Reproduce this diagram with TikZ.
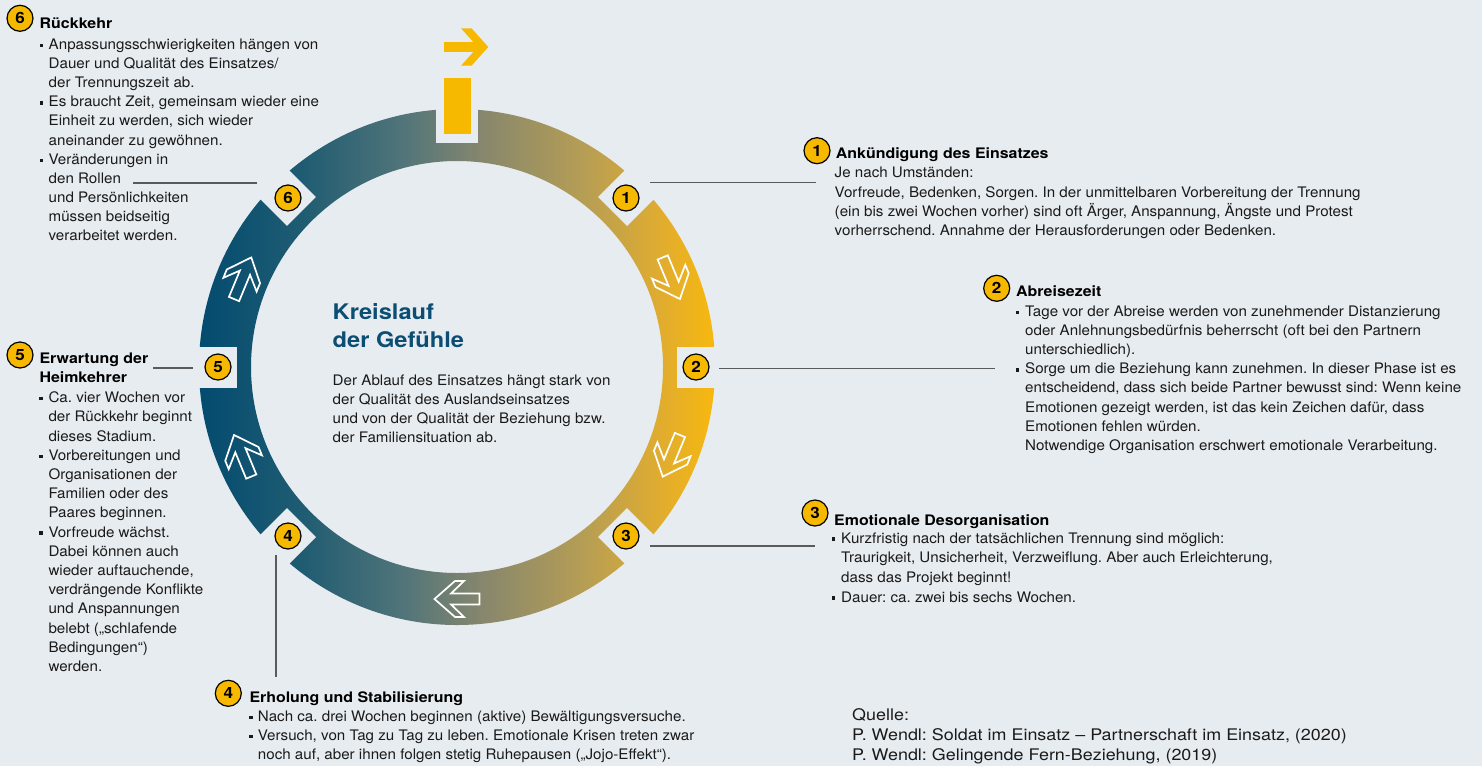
\documentclass[tikz,border=0pt]{standalone}
\usepackage{fontspec}
\setmainfont[FakeStretch=1.045]{TeX Gyre Heros}
\newfontfamily\ttlfont[FakeStretch=1.1]{TeX Gyre Heros}
\newfontfamily\qfont[FakeStretch=1.12]{TeX Gyre Heros}
\usetikzlibrary{calc}
\definecolor{bg}{HTML}{E7ECF0}
\definecolor{ylw}{HTML}{F7B900}
\definecolor{sa}{HTML}{034B6F}
\definecolor{sb}{HTML}{1F5C72}
\definecolor{sc}{HTML}{527579}
\definecolor{sd}{HTML}{87876D}
\definecolor{se}{HTML}{B79E54}
\definecolor{sf}{HTML}{E2AD2D}
\definecolor{sg}{HTML}{F7B80E}
\pgfdeclarehorizontalshading{ringshade}{100bp}{color(0bp)=(sa); color(25bp)=(sa); color(35bp)=(sb); color(45bp)=(sc); color(52.5bp)=(sd); color(62.5bp)=(se); color(70bp)=(sf); color(75bp)=(sg); color(100bp)=(sg)}
\definecolor{txtc}{HTML}{1A1A1A}
\definecolor{ttlblue}{HTML}{0B4D73}
\definecolor{leadc}{HTML}{5A5A5A}
\newcounter{lnc}
\newcommand\tline[3]{\stepcounter{lnc}\node[txt] (ln\thelnc) at (#1,-#2) {#3};}
\newcommand\ttline[3]{\stepcounter{lnc}\node[ttl] (ln\thelnc) at (#1,-#2) {#3};}
\newcommand\bul[2]{\fill[txtc] (#1,-#2+2.3) rectangle ++(3.4,3.4);}
\begin{document}
\frenchspacing
\begin{tikzpicture}[x=1pt,y=1pt,
  txt/.style={anchor=base west, inner sep=0pt, font=\fontsize{14.5}{19}\selectfont, text=txtc},
  ttl/.style={anchor=base west, inner sep=0pt, font=\ttlfont\fontsize{14.5}{19}\selectfont\bfseries, text=black},
  qtxt/.style={anchor=base west, inner sep=0pt, font=\qfont\fontsize{16}{20}\selectfont, text=txtc},
  ctitle/.style={anchor=base west, inner sep=0pt, font=\ttlfont\fontsize{21.5}{26}\selectfont\bfseries, text=ttlblue},
  badge/.style={circle, fill=ylw, draw=black, line width=1.2pt, minimum size=26pt, inner sep=0pt, font=\ttlfont\fontsize{15.5}{15}\selectfont\bfseries},
  leader/.style={draw=leadc, line width=1.2pt},
  ringarrow/.style={draw=white, line width=1.7pt, line join=miter}
]
\useasboundingbox (0,0) rectangle (1482,-766);
\fill[bg] (0,0) rectangle (1482,-766);

% ---------- ring ----------
\coordinate (C) at (457,-367);
\path[even odd rule, shading=ringshade]
  (C) circle (258) (C) circle (206);
\begin{scope}[shift={(457,-367)}]
  \foreach \a in {45,0,-45,-135,180,135}{
    \fill[bg, rotate=\a] (220,-20.5) rectangle (266,20.5);
  }
  \fill[bg, rotate=90] (224,-20.8) rectangle (266,20.8);
  \foreach \a in {22.5,-22.5,-90,-157.5,157.5}{
    \begin{scope}[shift={(\a:232)}, rotate=\a-90]
      \draw[ringarrow] (22.5,0) -- (2,18) -- (-7,18) -- (6,5.5) -- (-22.5,5.5)
        -- (-22.5,-5.5) -- (6,-5.5) -- (-7,-18) -- (2,-18) -- cycle;
    \end{scope}
  }
\end{scope}

% top marker
\fill[ylw] (444,-78) rectangle (471,-134);
\fill[ylw] (444,-42.3) rectangle (479,-51.7);
\fill[ylw] (461,-28.3) -- (471.5,-28.3) -- (488.3,-47) -- (471.5,-65.7) -- (461,-65.7) -- (477.8,-47) -- cycle;

% ring badges
\node[badge] (r1) at ($(C)+(45:239)$) {1};
\node[badge] (r2) at ($(C)+(0:239)$) {2};
\node[badge] (r3) at ($(C)+(-45:239)$) {3};
\node[badge] (r4) at ($(C)+(-135:239)$) {4};
\node[badge] (r5) at ($(C)+(180:239)$) {5};
\node[badge] (r6) at ($(C)+(135:239)$) {6};

% text badges
\node[badge] (b1) at (817,-150.7) {1};
\node[badge] (b2) at (996.7,-288.3) {2};
\node[badge] (b3) at (815,-513) {3};
\node[badge] (b4) at (228.3,-693.3) {4};
\node[badge] (b5) at (20,-355) {5};
\node[badge] (b6) at (20,-18.3) {6};

% leaders
\coordinate (l1s) at (650,-182.5); \coordinate (l1e) at (816,-182.5);
\coordinate (l2s) at (719,-368.5); \coordinate (l2e) at (995,-368.5);
\coordinate (l3s) at (650,-546); \coordinate (l3e) at (815,-546);
\coordinate (l4s) at (276,-555); \coordinate (l4e) at (276,-677);
\coordinate (l5s) at (193,-368); \coordinate (l5e) at (153,-368);
\coordinate (l6s) at (257,-183); \coordinate (l6e) at (133,-183);
\draw[leader] (l1s) -- (l1e);
\draw[leader] (l2s) -- (l2e);
\draw[leader] (l3s) -- (l3e);
\draw[leader] (l4s) -- (l4e);
\draw[leader] (l5s) -- (l5e);
\draw[leader] (l6s) -- (l6e);

% ---------- block 6 ----------
\ttline{39.5}{28.3}{Rückkehr}
\bul{39.5}{49.3}\bul{39.5}{106.8}\bul{39.5}{164.2}
\tline{48.5}{49.3}{Anpassungsschwierigkeiten hängen von}
\tline{48.5}{68.5}{Dauer und Qualität des Einsatzes/}
\tline{48.5}{87.6}{der Trennungszeit ab.}
\tline{48.5}{106.8}{Es braucht Zeit, gemeinsam wieder eine}
\tline{48.5}{125.9}{Einheit zu werden, sich wieder}
\tline{48.5}{145.1}{aneinander zu gewöhnen.}
\tline{48.5}{164.2}{Veränderungen in}
\tline{48.5}{183.4}{den Rollen}
\tline{48.5}{202.5}{und Persönlichkeiten}
\tline{48.5}{221.7}{müssen beidseitig}
\tline{48.5}{240.8}{verarbeitet werden.}

% ---------- block 1 ----------
\ttline{835.7}{158.3}{Ankündigung des Einsatzes}
\tline{834.5}{177.7}{Je nach Umständen:}
\tline{834.5}{197}{Vorfreude, Bedenken, Sorgen. In der unmittelbaren Vorbereitung der Trennung}
\tline{834.5}{216.3}{(ein bis zwei Wochen vorher) sind oft Ärger, Anspannung, Ängste und Protest}
\tline{834.5}{235.6}{vorherrschend. Annahme der Herausforderungen oder Bedenken.}

% ---------- block 2 ----------
\ttline{1016}{296.7}{Abreisezeit}
\bul{1016}{316.5}\bul{1016}{373.8}
\tline{1025}{316.5}{Tage vor der Abreise werden von zunehmender Distanzierung}
\tline{1025}{335.6}{oder Anlehnungsbedürfnis beherrscht (oft bei den Partnern}
\tline{1025}{354.7}{unterschiedlich).}
\tline{1025}{373.8}{Sorge um die Beziehung kann zunehmen. In dieser Phase ist es}
\tline{1025}{392.9}{entscheidend, dass sich beide Partner bewusst sind: Wenn keine}
\tline{1025}{412}{Emotionen gezeigt werden, ist das kein Zeichen dafür, dass}
\tline{1025}{431.1}{Emotionen fehlen würden.}
\tline{1025}{450.2}{Notwendige Organisation erschwert emotionale Verarbeitung.}

% ---------- block 3 ----------
\ttline{834}{525}{Emotionale Desorganisation}
\bul{832}{543}\bul{832}{602}
\tline{841}{543}{Kurzfristig nach der tatsächlichen Trennung sind möglich:}
\tline{841}{562.7}{Traurigkeit, Unsicherheit, Verzweiflung. Aber auch Erleichterung,}
\tline{841}{582.4}{dass das Projekt beginnt!}
\tline{841}{602}{Dauer: ca. zwei bis sechs Wochen.}

% ---------- block 4 ----------
\ttline{249.3}{702}{Erholung und Stabilisierung}
\bul{249.3}{721.5}\bul{249.3}{740.7}
\tline{257.7}{721.5}{Nach ca. drei Wochen beginnen (aktive) Bewältigungsversuche.}
\tline{257.7}{740.7}{Versuch, von Tag zu Tag zu leben. Emotionale Krisen treten zwar}
\tline{257.7}{759.9}{noch auf, aber ihnen folgen stetig Ruhepausen („Jojo-Effekt“).}

% ---------- block 5 ----------
\ttline{39.3}{363.3}{Erwartung der}
\ttline{39.3}{382.7}{Heimkehrer}
\bul{39.3}{402.7}\bul{39.3}{460.3}\bul{39.3}{537.1}
\tline{48.3}{402.7}{Ca. vier Wochen vor}
\tline{48.3}{421.9}{der Rückkehr beginnt}
\tline{48.3}{441.1}{dieses Stadium.}
\tline{48.3}{460.3}{Vorbereitungen und}
\tline{48.3}{479.5}{Organisationen der}
\tline{48.3}{498.7}{Familien oder des}
\tline{48.3}{517.9}{Paares beginnen.}
\tline{48.3}{537.1}{Vorfreude wächst.}
\tline{48.3}{556.3}{Dabei können auch}
\tline{48.3}{575.5}{wieder auftauchende,}
\tline{48.3}{594.7}{verdrängende Konflikte}
\tline{48.3}{613.9}{und Anspannungen}
\tline{48.3}{633.1}{belebt („schlafende}
\tline{48.3}{652.3}{Bedingungen“)}
\tline{48.3}{671.5}{werden.}

% ---------- center ----------
\node[ctitle] (ct1) at (332.5,-319) {Kreislauf};
\node[ctitle] (ct2) at (332.5,-347) {der Gefühle};
\tline{332.5}{385}{Der Ablauf des Einsatzes hängt stark von}
\tline{332.5}{404}{der Qualität des Auslandseinsatzes}
\tline{332.5}{423}{und von der Qualität der Beziehung bzw.}
\tline{332.5}{442}{der Familiensituation ab.}

% ---------- source ----------
\node[qtxt] (q1) at (852,-720.7) {Quelle:};
\node[qtxt] (q2) at (852,-740.5) {P. Wendl: Soldat im Einsatz – Partnerschaft im Einsatz, (2020)};
\node[qtxt] (q3) at (852,-760.3) {P. Wendl: Gelingende Fern-Beziehung, (2019)};
\end{tikzpicture}
\end{document}
